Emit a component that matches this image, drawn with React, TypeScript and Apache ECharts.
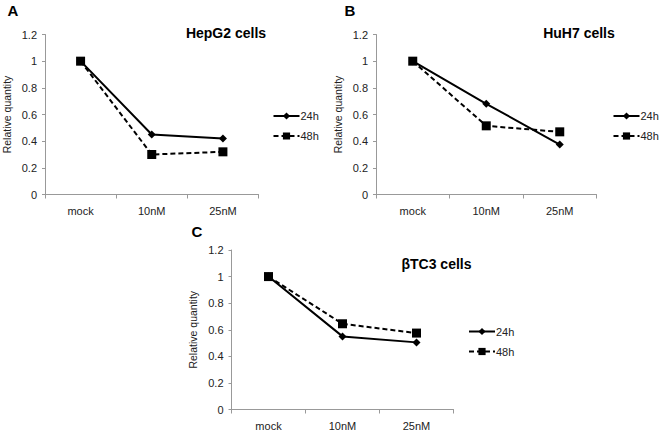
import React, { useEffect, useRef } from "react";
import * as echarts from "echarts";

const categories = ["mock", "10nM", "25nM"];
const yTicks = { min: 0, max: 1.2, interval: 0.2 };
const seriesNames = ["24h", "48h"];

const hepg2_24h = [1, 0.45, 0.42];
const hepg2_48h = [1, 0.3, 0.32];
const huh7_24h = [1, 0.68, 0.375];
const huh7_48h = [1, 0.515, 0.47];
const btc3_24h = [1, 0.55, 0.505];
const btc3_48h = [1, 0.645, 0.575];

const panelTitles = ["HepG2 cells", "HuH7 cells", "βTC3 cells"];
const panelLetters = ["A", "B", "C"];
const yName = "Relative quantity";

const FONT = "'Liberation Sans', Arial, sans-serif";

export default function App() {
  const ref = useRef<HTMLDivElement>(null);
  useEffect(() => {
    if (!ref.current) return;
    const chart = echarts.init(ref.current, undefined, { renderer: "svg" });

    const grids = [
      { left: 41, top: 34.5, width: 217.5, height: 160 },
      { left: 376, top: 34.5, width: 220.5, height: 160 },
      { left: 231.5, top: 250, width: 222, height: 159.5 },
    ];

    const xAxis = grids.map((_, i) => ({
      type: "category",
      gridIndex: i,
      data: categories,
      boundaryGap: true,
      axisLine: { lineStyle: { color: "#999", width: 1 } },
      axisTick: { show: true, length: 4, alignWithLabel: false, interval: 0, lineStyle: { color: "#999" } },
      axisLabel: { color: "#222", fontSize: 11, fontFamily: FONT, margin: 11, interval: 0 },
      splitLine: { show: false },
    }));

    const yAxis = grids.map((_, i) => ({
      type: "value",
      gridIndex: i,
      min: yTicks.min,
      max: yTicks.max,
      interval: yTicks.interval,
      name: yName,
      nameLocation: "middle",
      nameRotate: 90,
      nameGap: 33,
      nameTextStyle: { color: "#222", fontSize: 10.5, fontFamily: FONT },
      axisLine: { show: true, lineStyle: { color: "#999", width: 1 } },
      axisTick: { show: true, length: 3, lineStyle: { color: "#999" } },
      axisLabel: {
        color: "#222",
        fontSize: 11,
        fontFamily: FONT,
        margin: 8,
        formatter: (v: number) => String(+v.toFixed(1)),
      },
      splitLine: { show: false },
    }));

    const data = [
      [hepg2_24h, hepg2_48h],
      [huh7_24h, huh7_48h],
      [btc3_24h, btc3_48h],
    ];

    const series: any[] = [];
    data.forEach((pair, i) => {
      series.push({
        type: "line",
        name: seriesNames[0],
        xAxisIndex: i,
        yAxisIndex: i,
        data: pair[0],
        symbol: "diamond",
        symbolSize: 8,
        itemStyle: { color: "#000" },
        lineStyle: { color: "#000", width: 2, type: "solid" },
        z: 3,
      });
      series.push({
        type: "line",
        name: seriesNames[1],
        xAxisIndex: i,
        yAxisIndex: i,
        data: pair[1],
        symbol: "rect",
        symbolSize: 9,
        itemStyle: { color: "#000" },
        lineStyle: { color: "#000", width: 2, type: [5, 3] },
        z: 2,
      });
    });

    const legendPos = [
      { left: 272.5, top: 110.5 },
      { left: 612.5, top: 110.5 },
      { left: 468, top: 326 },
    ];
    const legend = legendPos.map((p) => ({
      data: seriesNames,
      orient: "vertical",
      left: p.left,
      top: p.top,
      padding: 0,
      itemWidth: 26,
      itemHeight: 9,
      itemGap: 9,
      selectedMode: false,
      textStyle: { color: "#222", fontSize: 11, fontFamily: FONT, padding: [0, 0, 0, -4] },
    }));

    const titlePos = [
      { x: 226, y: 33 },
      { x: 579, y: 33 },
      { x: 436.5, y: 264 },
    ];
    const letterPos = [
      { x: 13, y: 10 },
      { x: 350, y: 10 },
      { x: 197, y: 231.5 },
    ];
    const graphic: any[] = [];
    titlePos.forEach((p, i) => {
      graphic.push({
        type: "text",
        x: p.x,
        y: p.y,
        style: {
          text: panelTitles[i],
          fontSize: 14,
          fontWeight: "bold",
          fontFamily: FONT,
          fill: "#000",
          align: "center",
          verticalAlign: "middle",
        },
      });
    });
    letterPos.forEach((p, i) => {
      graphic.push({
        type: "text",
        x: p.x,
        y: p.y,
        style: {
          text: panelLetters[i],
          fontSize: 15,
          fontWeight: "bold",
          fontFamily: FONT,
          fill: "#000",
          align: "center",
          verticalAlign: "middle",
        },
      });
    });

    chart.setOption({
      animation: false,
      backgroundColor: "#fff",
      grid: grids,
      xAxis,
      yAxis,
      series,
      legend,
      graphic,
    } as any);

    return () => chart.dispose();
  }, []);

  return (
    <div
      ref={ref}
      style={{ position: "fixed", left: 0, top: 0, width: 661, height: 433, background: "#fff" }}
    />
  );
}
